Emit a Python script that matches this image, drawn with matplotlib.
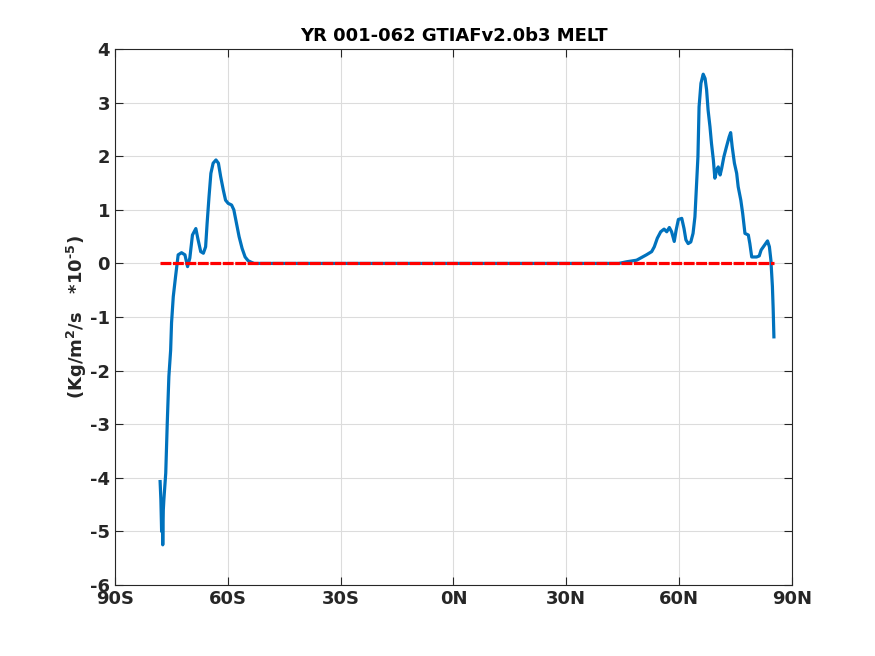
import numpy as np
import matplotlib.pyplot as plt

# zonal mean melt flux
lat = [-78.0, -77.8, -77.6, -77.45, -77.3, -77.15, -77.0, -76.5, -76.1, -75.67, -75.2,
       -74.96, -74.5, -73.9, -73.2, -72.3, -71.4, -70.7, -70.1, -69.4, -68.5,
       -67.9, -67.2, -66.5, -65.9, -65.5, -65.0, -64.5, -63.9, -63.15, -62.5,
       -61.9, -61.2, -60.6, -59.9, -59.0, -58.4, -57.7, -57.0, -56.2, -55.4,
       -54.6, -53.7, -53.0, -40.0, -20.0, 0.0, 20.0, 40.0, 44.0, 46.0, 48.7,
       50.0, 51.3, 52.7, 53.4, 54.2, 55.1, 56.0, 56.7, 57.4, 58.0, 58.7, 59.2,
       59.8, 60.7, 61.3, 61.8, 62.4, 63.1, 63.7, 64.2, 64.6, 65.0, 65.3, 65.8,
       66.4, 66.9, 67.3, 67.7, 68.2, 68.6, 69.1, 69.5, 70.0, 70.4, 70.9, 71.3,
       71.9, 72.6, 73.3, 73.7, 74.1, 74.7, 75.3, 75.7, 76.4, 76.9, 77.5, 78.4,
       78.8, 79.3, 79.9, 80.6, 81.3, 81.8, 82.4, 83.0, 83.5, 84.0, 84.4, 84.8,
       85.0, 85.2]
melt = [-4.07, -4.4, -5.0, -4.5, -5.25, -4.6, -4.41, -3.91, -2.98, -2.11, -1.62,
        -1.11, -0.62, -0.25, 0.16, 0.20, 0.16, -0.06, 0.10, 0.53, 0.65,
        0.44, 0.22, 0.19, 0.31, 0.75, 1.24, 1.68, 1.87, 1.93, 1.87,
        1.62, 1.37, 1.18, 1.12, 1.09, 1.00, 0.75, 0.50, 0.28, 0.12,
        0.05, 0.02, 0.0, 0.0, 0.0, 0.0, 0.0, 0.0, 0.0, 0.03, 0.06,
        0.11, 0.16, 0.22, 0.31, 0.47, 0.59, 0.64, 0.59, 0.67, 0.59, 0.41, 0.62,
        0.82, 0.84, 0.65, 0.44, 0.37, 0.40, 0.56, 0.87, 1.43, 1.99, 2.92, 3.36,
        3.53, 3.45, 3.24, 2.86, 2.55, 2.24, 1.93, 1.59, 1.74, 1.80, 1.65, 1.77,
        1.99, 2.18, 2.36, 2.44, 2.18, 1.87, 1.68, 1.43, 1.18, 0.93, 0.56, 0.53,
        0.37, 0.12, 0.12, 0.12, 0.14, 0.25, 0.31, 0.37, 0.42, 0.31, 0.06, -0.43,
        -0.84, -1.37]

zero_lat = [-78.0, 85.2]
zero_val = [0.0, 0.0]

xticks = [-90, -60, -30, 0, 30, 60, 90]
xlabels = ['90S', '60S', '30S', '0N', '30N', '60N', '90N']

plt.rcParams['font.family'] = 'DejaVu Sans'
plt.rcParams['font.weight'] = 'bold'
plt.rcParams['axes.unicode_minus'] = False
plt.rcParams['mathtext.fontset'] = 'custom'
plt.rcParams['mathtext.rm'] = 'DejaVu Sans:bold'
plt.rcParams['mathtext.bf'] = 'DejaVu Sans:bold'
plt.rcParams['mathtext.default'] = 'bf'

fig = plt.figure(figsize=(8.75, 6.56), dpi=100)
ax = fig.add_axes([0.1314, 0.1082, 0.7737, 0.8171])

ax.plot(lat, melt, color='#0072BD', lw=2.3)
ax.plot(zero_lat, zero_val, color='red', lw=2.3, ls=(0, (3.4, 0.5)))

ax.set_xlim(-90, 90)
ax.set_ylim(-6, 4)
ax.set_xticks(xticks)
ax.set_xticklabels(xlabels)
ax.set_yticks(range(-6, 5))
ax.grid(True, color='#dcdcdc', lw=0.8)
ax.set_axisbelow(True)
ax.tick_params(direction='in', top=True, right=True, labelsize=13,
               colors='#262626', length=6, width=0.8)
for s in ax.spines.values():
    s.set_color('#262626')
    s.set_linewidth(0.8)

ax.set_title('YR 001-062 GTIAFv2.0b3 MELT', fontsize=13, fontweight='bold', pad=6)
ax.set_ylabel(r'(Kg/m$^{2}$/s   *10$^{\text{-5}}$)', fontsize=13,
              fontweight='bold', color='#262626', labelpad=1)

fig.savefig('out.png', dpi=100)
